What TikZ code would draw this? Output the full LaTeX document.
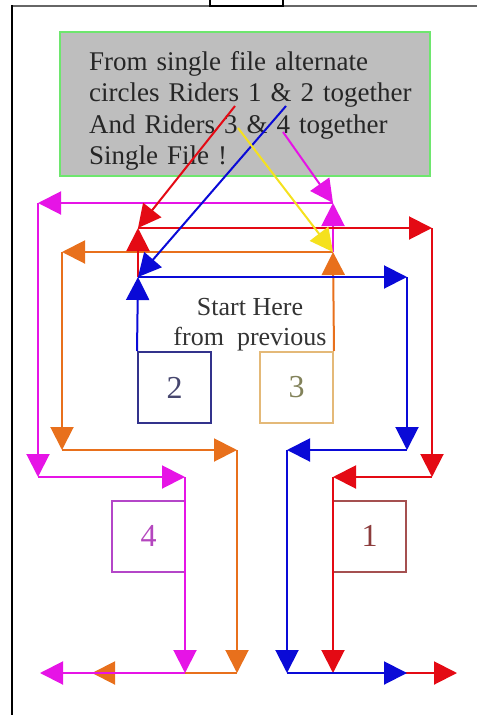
\documentclass[tikz,border=0pt]{standalone}
\usepackage{fontspec}
\setmainfont{Liberation Serif}
\usetikzlibrary{arrows.meta}

\definecolor{ridermag}{RGB}{230,20,230}
\definecolor{riderred}{RGB}{228,10,20}
\definecolor{riderorange}{RGB}{232,112,28}
\definecolor{riderblue}{RGB}{10,10,215}
\definecolor{rideryellow}{RGB}{245,225,30}
\definecolor{notegray}{RGB}{190,190,190}
\definecolor{notegreen}{RGB}{110,230,110}

\tikzstyle{notebox} = [rectangle, draw=notegreen, fill=notegray, line width=2.5pt,
    minimum width=370pt, minimum height=144pt]
\tikzstyle{notetext} = [anchor=north west, inner sep=0pt, text width=340pt, align=left,
    font=\fontsize{27}{31.5}\selectfont, text=black!85]
\tikzstyle{starttext} = [inner sep=0pt, align=center,
    font=\fontsize{26}{30}\selectfont, text=black!80]
\tikzstyle{rider} = [rectangle, draw, line width=2pt, minimum width=73pt,
    minimum height=71pt, inner sep=0pt, font=\fontsize{32}{32}\selectfont]
\tikzstyle{route} = [line width=2pt]

\begin{document}
\begin{tikzpicture}[x=1pt,y=-1pt,->,>={Triangle[length=23pt,width=23pt]}]
  \useasboundingbox (0,0) rectangle (477,715);

  % page frame
  \draw[-,line width=2pt,black!60] (12,6) -- (477,6);
  \draw[-,line width=2pt] (12,5) -- (12,715);
  \draw[-,line width=2pt] (210,0) |- (283,6) -- (283,0);

  \node[notebox] (note) at (245,104) {};
  \node[notetext] (words) at (89,51) {From single file alternate\\
    circles Riders 1 \& 2 together\\And Riders 3 \& 4 together\\Single File !};
  \node[starttext] (start) at (250,325) {Start Here\\from\ \ previous};

  \node[rider,draw={rgb,255:red,50;green,50;blue,140},text={rgb,255:red,70;green,70;blue,110}]
    (R2) at (174.5,387.5) {2};
  \node[rider,draw={rgb,255:red,228;green,185;blue,120},text={rgb,255:red,130;green,130;blue,90}]
    (R3) at (296.5,387.5) {3};
  \node[rider,draw={rgb,255:red,180;green,70;blue,200},text={rgb,255:red,180;green,70;blue,190}]
    (R4) at (148.5,536) {4};
  \node[rider,draw={rgb,255:red,165;green,80;blue,80},text={rgb,255:red,140;green,60;blue,60}]
    (R1) at (369.5,536) {1};

  % corners of the four routes
  \coordinate (b1) at (138,277); \coordinate (b2) at (407,277);
  \coordinate (b3) at (407,450); \coordinate (b4) at (287,450);
  \coordinate (b5) at (287,673); \coordinate (b6) at (407,673);
  \coordinate (r1) at (138,228); \coordinate (r2) at (432,228);
  \coordinate (r3) at (432,477); \coordinate (r4) at (333,477);
  \coordinate (r5) at (333,673); \coordinate (r6) at (457,673);
  \coordinate (o1) at (333,252); \coordinate (o2) at (62,252);
  \coordinate (o3) at (62,450);  \coordinate (o4) at (237,450);
  \coordinate (o5) at (237,673); \coordinate (o6) at (92,673);
  \coordinate (m1) at (333,203); \coordinate (m2) at (38,203);
  \coordinate (m3) at (38,477);  \coordinate (m4) at (185,477);
  \coordinate (m5) at (185,673); \coordinate (m6) at (40,673);
  % where the pointers leave the note
  \coordinate (rs) at (235,106); \coordinate (bs) at (286,106);
  \coordinate (ys) at (238,128); \coordinate (ms) at (283,132);

  \path[route,riderorange] (R3.north east) edge (o1) (o1) edge (o2) (o2) edge (o3)
        (o3) edge (o4) (o4) edge (o5) (o5) edge (o6);
  \path[route,ridermag] (o1) edge (m1) (m1) edge (m2) (m2) edge (m3)
        (m3) edge (m4) (m4) edge (m5) (m5) edge (m6);
  \path[route,riderred] (b1) edge (r1) (r1) edge (r2) (r2) edge (r3)
        (r3) edge (r4) (r4) edge (r5) (r5) edge (r6);
  \path[route,riderblue] (R2.north west) edge (b1) (b1) edge (b2) (b2) edge (b3)
        (b3) edge (b4) (b4) edge (b5) (b5) edge (b6);

  \path[route] (rs) edge[riderred] (r1)
        (bs) edge[riderblue] (b1)
        (ys) edge[rideryellow] (o1)
        (ms) edge[ridermag] (m1);
\end{tikzpicture}
\end{document}
